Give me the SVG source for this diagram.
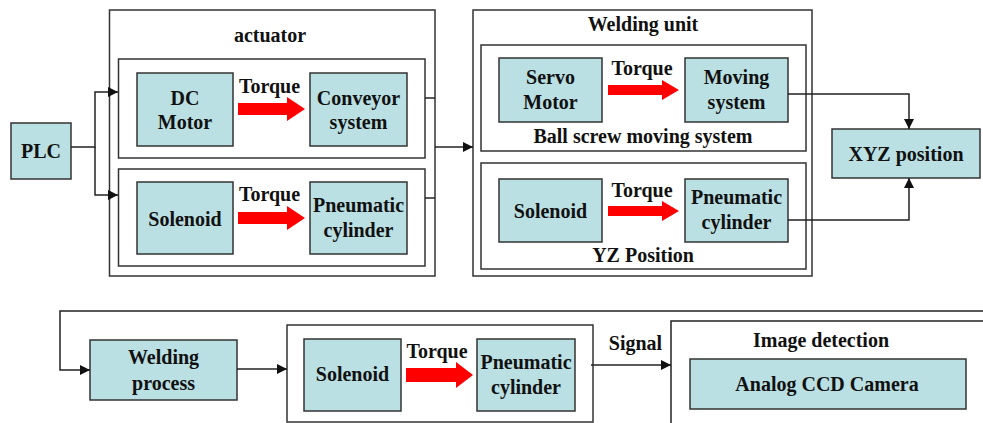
<svg xmlns="http://www.w3.org/2000/svg" width="983" height="423" viewBox="0 0 983 423" font-family="Liberation Serif, DejaVu Serif, serif">
<defs>
<style>
.frame{fill:#fff;stroke:#333;stroke-width:1.5}
.blk{fill:#bae0e3;stroke:#333;stroke-width:1.5}
.t{font-weight:bold;font-size:20px;fill:#111;text-anchor:middle}
.ln{fill:none;stroke:#222;stroke-width:1.5}
.red{fill:#ff0000}
</style>
<marker id="ah" viewBox="0 0 10 10" refX="10" refY="5" markerWidth="10" markerHeight="10" markerUnits="userSpaceOnUse" orient="auto">
<path d="M0,0 L10,5 L0,10 Z" fill="#111"/>
</marker>
</defs>
<rect width="983" height="423" fill="#fff"/>

<g id="actuator">
<rect class="frame" x="109.5" y="10" width="325.5" height="266"/>
<text class="t" x="270" y="42">actuator</text>
<rect class="frame" x="118.5" y="59" width="306.5" height="99"/>
<rect class="frame" x="118.5" y="169" width="306.5" height="97"/>
</g>
<g id="dc-motor"><rect class="blk" x="137" y="73" width="96" height="73"/><text class="t" x="185" y="105">DC</text><text class="t" x="185" y="129">Motor</text></g>
<g id="conveyor"><rect class="blk" x="310" y="73" width="97" height="73"/><text class="t" x="358.5" y="105">Conveyor</text><text class="t" x="358.5" y="129">system</text></g>
<g id="torque-a1"><text class="t" x="269.5" y="93">Torque</text><path class="red" d="M238,103 H287 V97 L305,109 L287,121 V115 H238 Z"/></g>
<g id="solenoid-a"><rect class="blk" x="137" y="182" width="96" height="72"/><text class="t" x="185" y="226">Solenoid</text></g>
<g id="pneumatic-a"><rect class="blk" x="310" y="182" width="97" height="72"/><text class="t" x="358.5" y="212">Pneumatic</text><text class="t" x="358.5" y="237">cylinder</text></g>
<g id="torque-a2"><text class="t" x="269.5" y="201">Torque</text><path class="red" d="M238,212 H287 V206 L305,218 L287,230 V224 H238 Z"/></g>

<g id="plc"><rect class="blk" x="11" y="123" width="60" height="56"/><text class="t" x="41" y="158">PLC</text></g>

<g id="welding-unit">
<rect class="frame" x="473" y="10" width="339" height="266"/>
<text class="t" x="643" y="31">Welding unit</text>
<rect class="frame" x="481" y="45" width="325" height="106"/>
<text class="t" x="643" y="143">Ball screw moving system</text>
<rect class="frame" x="481" y="163" width="325" height="106"/>
<text class="t" x="643" y="262">YZ Position</text>
</g>
<g id="servo"><rect class="blk" x="499" y="58" width="103" height="64"/><text class="t" x="550.5" y="84">Servo</text><text class="t" x="550.5" y="109">Motor</text></g>
<g id="moving"><rect class="blk" x="685" y="58" width="103" height="64"/><text class="t" x="736.5" y="84">Moving</text><text class="t" x="736.5" y="109">system</text></g>
<g id="torque-w1"><text class="t" x="642" y="75">Torque</text><path class="red" d="M608,85 H662 V80 L679,90 L662,100 V95 H608 Z"/></g>
<g id="solenoid-w"><rect class="blk" x="499" y="179" width="103" height="63"/><text class="t" x="550.5" y="218">Solenoid</text></g>
<g id="pneumatic-w"><rect class="blk" x="685" y="179" width="103" height="63"/><text class="t" x="736.5" y="204">Pneumatic</text><text class="t" x="736.5" y="229">cylinder</text></g>
<g id="torque-w2"><text class="t" x="642" y="197">Torque</text><path class="red" d="M608,206 H662 V201 L679,211 L662,221 V216 H608 Z"/></g>

<g id="xyz"><rect class="blk" x="832" y="129" width="148" height="49"/><text class="t" x="906" y="161">XYZ position</text></g>

<g id="welding-process"><rect class="blk" x="90" y="340" width="147" height="60"/><text class="t" x="163.5" y="364">Welding</text><text class="t" x="163.5" y="390">process</text></g>

<g id="bottom-unit">
<rect class="frame" x="287" y="325" width="306" height="97"/>
</g>
<g id="solenoid-b"><rect class="blk" x="304" y="339" width="97" height="72"/><text class="t" x="352.5" y="381">Solenoid</text></g>
<g id="pneumatic-b"><rect class="blk" x="477" y="339" width="98" height="72"/><text class="t" x="526" y="369">Pneumatic</text><text class="t" x="526" y="394">cylinder</text></g>
<g id="torque-b"><text class="t" x="437" y="358">Torque</text><path class="red" d="M406,368 H456 V362 L473,375 L456,388 V382 H406 Z"/></g>

<g id="image-detection">
<path class="ln" d="M983,321 H671 V423"/>
<text class="t" x="821" y="347">Image detection</text>
</g>
<g id="ccd"><rect class="blk" x="690" y="359" width="276" height="50"/><text class="t" x="827" y="391">Analog CCD Camera</text></g>

<g id="connectors">
<path class="ln" d="M71,147 H95 V92 H118" marker-end="url(#ah)"/>
<path class="ln" d="M95,147 V195 H118" marker-end="url(#ah)"/>
<path class="ln" d="M425,98 H435"/>
<path class="ln" d="M425,198 H435"/>
<path class="ln" d="M435,147 H473" marker-end="url(#ah)"/>
<path class="ln" d="M788,94 H909 V129" marker-end="url(#ah)"/>
<path class="ln" d="M788,220 H909 V178" marker-end="url(#ah)"/>
<path class="ln" d="M983,311 H60 V370 H90" marker-end="url(#ah)"/>
<path class="ln" d="M237,369 H287" marker-end="url(#ah)"/>
<path class="ln" d="M591,365 H671" marker-end="url(#ah)"/>
<text class="t" x="635.5" y="350">Signal</text>
</g>
</svg>
